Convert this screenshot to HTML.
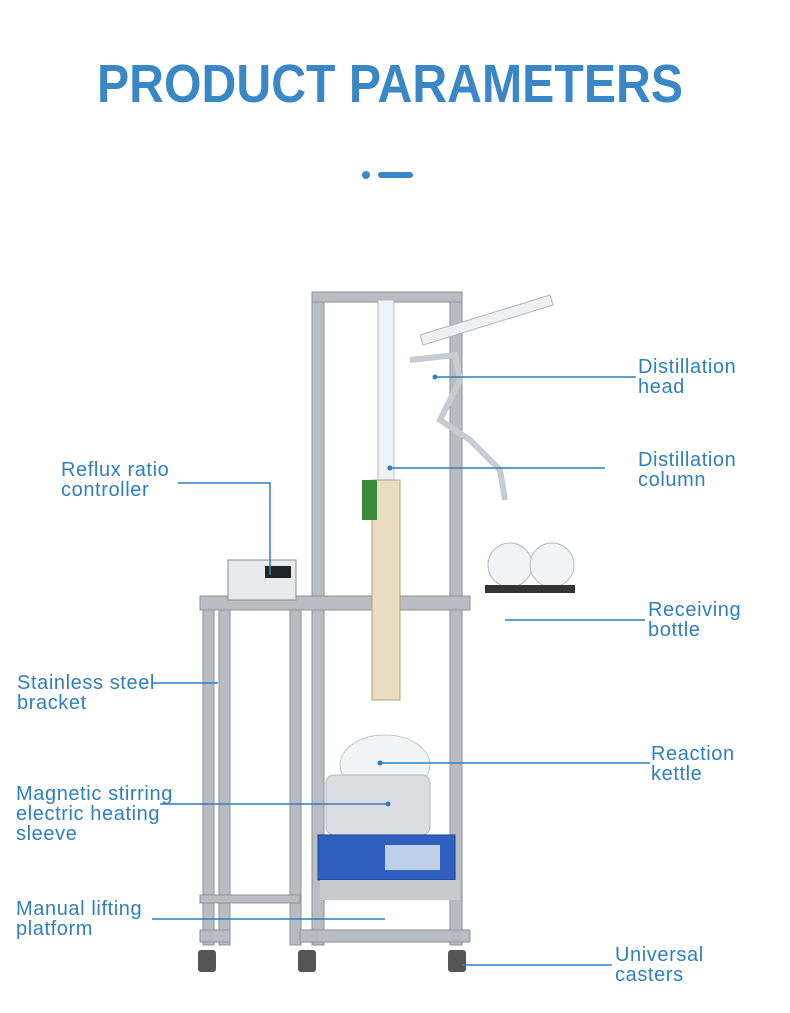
<!DOCTYPE html>
<html><head><meta charset="utf-8"><style>
html,body{margin:0;padding:0;background:#fff;}
svg{display:block}
text{font-family:"Liberation Sans",sans-serif;}
.lb{fill:#2f7fbf;font-size:20px;letter-spacing:0.6px;}
.ln{stroke:#2f7fbf;stroke-width:1.5;fill:none}
</style></head><body>
<svg width="790" height="1013" viewBox="0 0 790 1013" xmlns="http://www.w3.org/2000/svg">
<rect width="790" height="1013" fill="#fff"/>
<text x="390" y="102" text-anchor="middle" font-size="54" font-weight="bold" fill="#3a87c5" textLength="586" lengthAdjust="spacingAndGlyphs">PRODUCT PARAMETERS</text>
<circle cx="366" cy="175" r="4" fill="#3a87c5"/>
<rect x="378" y="172" width="35" height="6" rx="3" fill="#3a87c5"/>

<g fill="#b9bcc0" stroke="#8e9297" stroke-width="1">
<rect x="312" y="295" width="12" height="650"/>
<rect x="450" y="295" width="12" height="650"/>
<rect x="312" y="292" width="150" height="10"/>
<rect x="203" y="605" width="11" height="340"/>
<rect x="219" y="605" width="11" height="340"/>
<rect x="290" y="605" width="11" height="340"/>
<rect x="200" y="596" width="270" height="14"/>
<rect x="200" y="895" width="100" height="8"/>
<rect x="300" y="930" width="170" height="12"/>
<rect x="200" y="930" width="30" height="12"/>
</g>
<g fill="#555">
<rect x="198" y="950" width="18" height="22" rx="3"/>
<rect x="298" y="950" width="18" height="22" rx="3"/>
<rect x="448" y="950" width="18" height="22" rx="3"/>
</g>
<path d="M420 335 L550 295 L553 305 L423 345Z" fill="#eef1f4" stroke="#b0b6bc"/>
<path d="M410 360 L455 355 L460 380 L440 420 L470 440 L500 470 L505 500" fill="none" stroke="#c6ccd2" stroke-width="6"/>
<rect x="378" y="300" width="16" height="180" fill="#eef2f5" stroke="#b5bcc3"/>
<rect x="372" y="480" width="28" height="220" fill="#e9dcc0" stroke="#b4a07a"/>
<rect x="362" y="480" width="15" height="40" fill="#3a8a3a"/>
<rect x="228" y="560" width="68" height="40" fill="#e9eaec" stroke="#888"/>
<rect x="265" y="566" width="26" height="12" fill="#222"/>
<ellipse cx="385" cy="765" rx="45" ry="30" fill="#f2f4f6" stroke="#c2c8ce"/>
<rect x="326" y="775" width="104" height="60" rx="8" fill="#dadcdf" stroke="#b8babd"/>
<rect x="318" y="835" width="137" height="45" fill="#2f5fbf" stroke="#1f3f8f"/>
<rect x="385" y="845" width="55" height="25" fill="#bcd0e8"/>
<rect x="320" y="880" width="140" height="20" fill="#c8cacd"/>
<circle cx="510" cy="565" r="22" fill="#f2f4f6" stroke="#b5bcc3"/>
<circle cx="552" cy="565" r="22" fill="#f2f4f6" stroke="#b5bcc3"/>
<rect x="485" y="585" width="90" height="8" fill="#333"/>

<g class="ln">
<path d="M435 377H636"/><path d="M390 468H605"/>
<path d="M178 483H270V575"/><path d="M505 620H645"/>
<path d="M152 683H218"/><path d="M380 763H650"/>
<path d="M160 804H388"/><path d="M152 919H385"/><path d="M462 965H612"/>
</g>
<g fill="#2f7fbf"><circle cx="435" cy="377" r="2.5"/><circle cx="390" cy="468" r="2.5"/><circle cx="380" cy="763" r="2.5"/><circle cx="388" cy="804" r="2.5"/></g>
<g class="lb">
<text x="638" y="373">Distillation</text><text x="638" y="393">head</text>
<text x="638" y="466">Distillation</text><text x="638" y="486">column</text>
<text x="61" y="476">Reflux ratio</text><text x="61" y="496">controller</text>
<text x="648" y="616">Receiving</text><text x="648" y="636">bottle</text>
<text x="17" y="689">Stainless steel</text><text x="17" y="709">bracket</text>
<text x="651" y="760">Reaction</text><text x="651" y="780">kettle</text>
<text x="16" y="800">Magnetic stirring</text><text x="16" y="820">electric heating</text><text x="16" y="840"> sleeve</text>
<text x="16" y="915">Manual lifting</text><text x="16" y="935">platform</text>
<text x="615" y="961">Universal</text><text x="615" y="981">casters</text>
</g>
</svg>
</body></html>
